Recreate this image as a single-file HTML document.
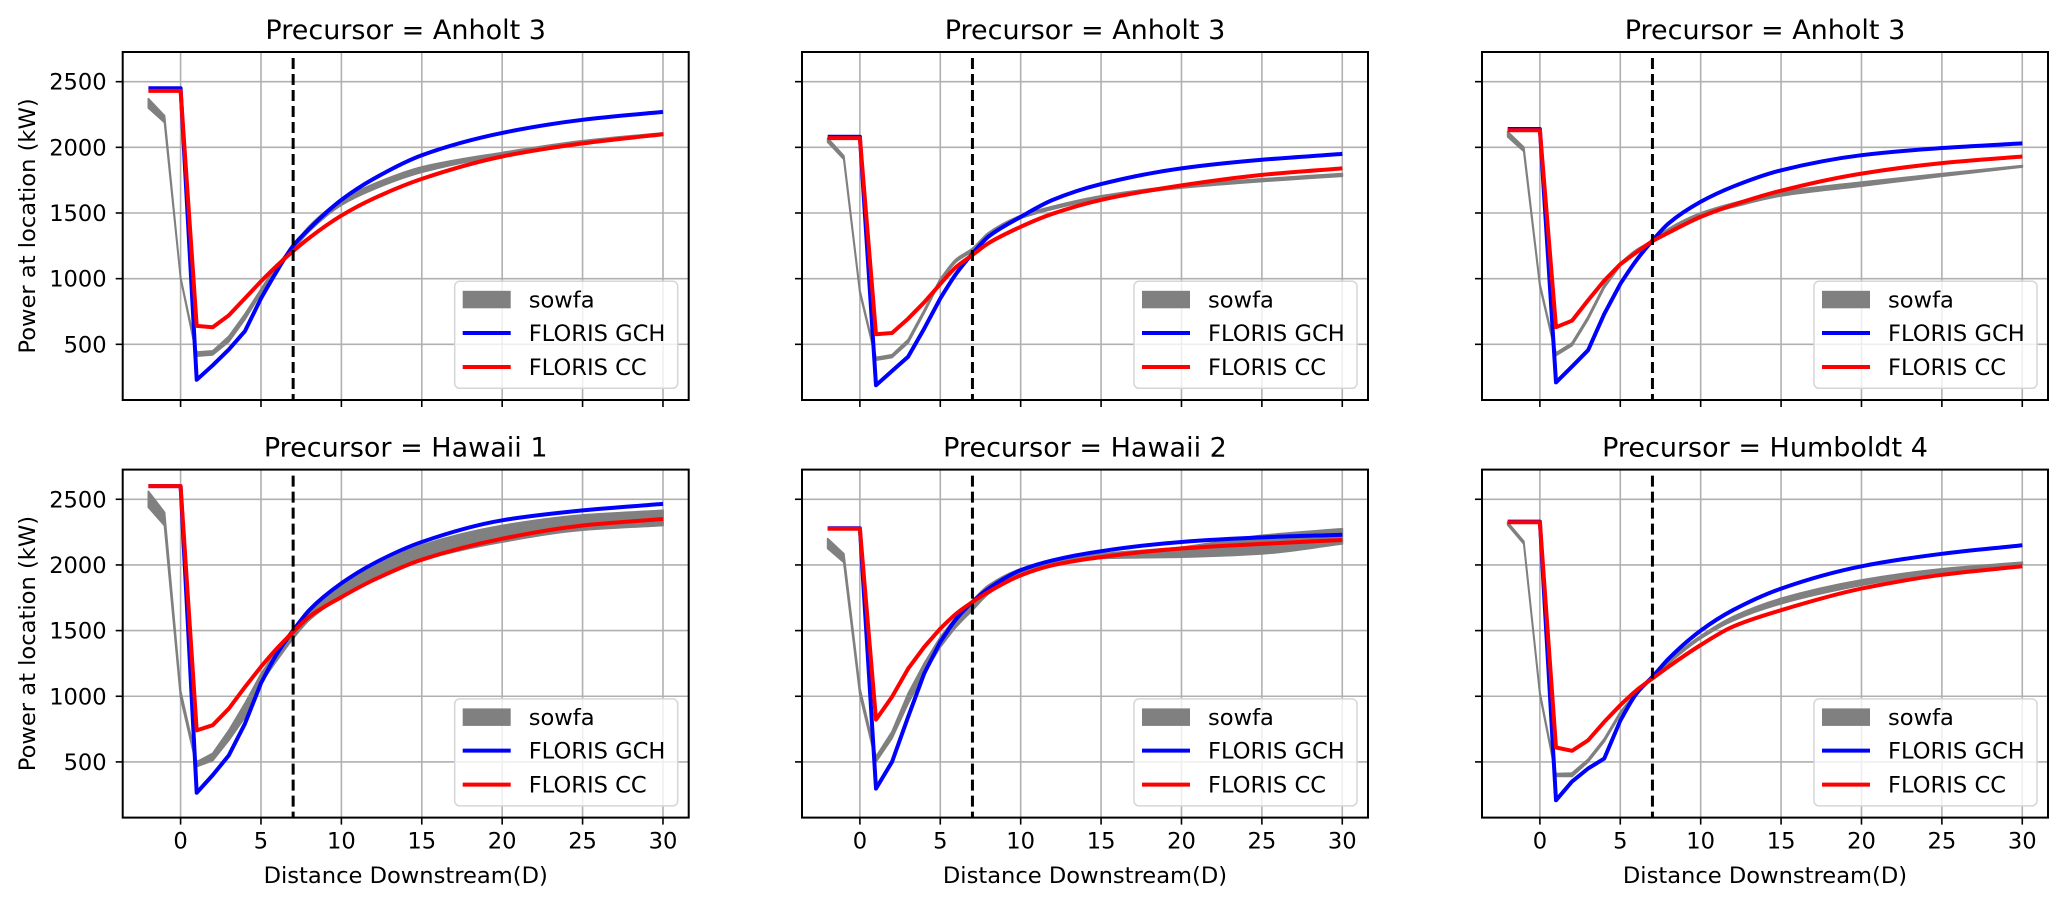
<!DOCTYPE html>
<html><head><meta charset="utf-8">
<style>
html,body{margin:0;padding:0;background:#fff;}
svg{display:block;font-family:"DejaVu Sans","Liberation Sans",sans-serif;}
</style></head>
<body>
<svg id="fig" width="2067" height="904" viewBox="0 0 2067 904" xmlns="http://www.w3.org/2000/svg"></svg>
<script>
const xs = [-2,-1,0,1,2,3,4,5,6,7,8,10,12,15,20,25,30];
const titles = ["Precursor = Anholt 3","Precursor = Anholt 3","Precursor = Anholt 3","Precursor = Hawaii 1","Precursor = Hawaii 2","Precursor = Humboldt 4"];
const xTicks = [0,5,10,15,20,25,30];
const yTicks = [500,1000,1500,2000,2500];
const markerX = 7;

const gch1 = [2450,2450,2450,230,340,460,600,850,1060,1250,1380,1600,1760,1940,2110,2210,2270];
const cc1  = [2430,2430,2430,640,630,720,850,980,1100,1210,1310,1480,1610,1760,1930,2030,2100];
const sLo1 = [2300,2190,1000,410,420,520,690,890,1070,1220,1360,1560,1680,1810,1940,2030,2090];
const sHi1 = [2370,2240,1010,440,450,560,730,920,1100,1250,1400,1600,1720,1850,1960,2050,2110];

const gch2 = [2080,2080,2080,188,297,405,620,850,1040,1190,1320,1470,1600,1720,1840,1905,1950];
const cc2  = [2070,2070,2070,576,586,695,820,960,1090,1180,1270,1395,1495,1600,1710,1790,1840];
const sLo2 = [2040,1910,890,380,400,510,740,980,1130,1210,1330,1460,1530,1610,1690,1740,1780];
const sHi2 = [2070,1935,910,400,420,535,760,1000,1150,1230,1350,1480,1550,1630,1710,1760,1800];

const gch3 = [2140,2140,2140,210,330,455,730,960,1140,1290,1420,1585,1700,1825,1940,1995,2030];
const cc3  = [2130,2130,2130,630,680,835,985,1110,1200,1285,1350,1470,1560,1670,1800,1880,1930];
const sLo3 = [2080,1970,940,415,490,690,930,1100,1200,1280,1360,1480,1545,1630,1705,1780,1850];
const sHi3 = [2120,2000,960,435,510,710,950,1120,1220,1290,1380,1500,1575,1660,1735,1800,1860];

const gch4 = [2600,2600,2600,265,400,550,790,1100,1325,1500,1655,1860,2010,2175,2340,2415,2465];
const cc4  = [2600,2600,2600,740,780,905,1070,1225,1365,1490,1605,1755,1885,2040,2200,2300,2350];
const sLo4 = [2440,2300,990,465,510,665,840,1100,1275,1440,1580,1755,1895,2035,2175,2265,2300];
const sHi4 = [2560,2400,1040,500,565,740,945,1170,1350,1515,1655,1845,1985,2150,2300,2380,2415];

const gch5 = [2280,2280,2280,297,500,843,1173,1414,1590,1718,1820,1960,2035,2105,2175,2210,2230];
const cc5  = [2275,2275,2275,822,995,1210,1375,1515,1630,1718,1795,1920,1998,2060,2125,2160,2190];
const sLo5 = [2125,2020,1010,500,680,945,1175,1375,1530,1655,1780,1920,1998,2050,2060,2085,2160];
const sHi5 = [2200,2085,1060,540,730,1020,1250,1450,1605,1730,1845,1970,2035,2085,2135,2225,2275];

const gch6 = [2330,2330,2330,208,350,450,525,815,1020,1148,1285,1500,1655,1820,1990,2085,2150];
const cc6  = [2325,2325,2325,610,585,665,805,932,1045,1135,1225,1390,1530,1655,1820,1925,1990];
const sLo6 = [2305,2160,1010,390,390,500,655,860,1010,1140,1250,1440,1575,1705,1845,1945,2005];
const sHi6 = [2325,2180,1030,410,415,520,675,880,1030,1160,1270,1460,1605,1745,1885,1970,2020];

const gchAll = [gch1,gch2,gch3,gch4,gch5,gch6];
const ccAll = [cc1,cc2,cc3,cc4,cc5,cc6];
const sLoAll = [sLo1,sLo2,sLo3,sLo4,sLo5,sLo6];
const sHiAll = [sHi1,sHi2,sHi3,sHi4,sHi5,sHi6];

const NS = "http://www.w3.org/2000/svg";
const svg = document.getElementById("fig");
function mk(tag, attrs, parent){
  const e = document.createElementNS(NS, tag);
  for (const k in attrs) e.setAttribute(k, attrs[k]);
  (parent||svg).appendChild(e);
  return e;
}
const colL = [122.7, 802, 1482], rowT = [52, 469.6];
const W = 566, H = 348;
const XMIN = -3.6, XMAX = 31.6, YMIN = 76, YMAX = 2726;
const SMOOTH_FROM = 7;

function cubicSeg(Q){
  const n = Q.length;
  const dk = [], m = [];
  for (let i = 0; i < n - 1; i++) dk.push((Q[i+1][1] - Q[i][1]) / (Q[i+1][0] - Q[i][0]));
  for (let i = 0; i < n; i++) {
    if (i === 0) m.push(dk[0]);
    else if (i === n - 1) m.push(dk[n-2]);
    else if (dk[i-1] * dk[i] <= 0) m.push(0);
    else {
      const h0 = Q[i][0]-Q[i-1][0], h1 = Q[i+1][0]-Q[i][0];
      const w1 = 2*h1 + h0, w2 = h1 + 2*h0;
      m.push((w1 + w2) / (w1 / dk[i-1] + w2 / dk[i]));
    }
  }
  let d = "";
  for (let i = 0; i < n - 1; i++) {
    const h = Q[i+1][0] - Q[i][0];
    d += "C" + (Q[i][0]+h/3).toFixed(1) + "," + (Q[i][1]+m[i]*h/3).toFixed(1) + " " + (Q[i+1][0]-h/3).toFixed(1) + "," + (Q[i+1][1]-m[i+1]*h/3).toFixed(1) + " " + Q[i+1][0].toFixed(1) + "," + Q[i+1][1].toFixed(1);
  }
  return d;
}
function pathD(P){
  let d = "M" + P[0][0].toFixed(1) + "," + P[0][1].toFixed(1);
  for (let i = 1; i <= SMOOTH_FROM && i < P.length; i++) d += "L" + P[i][0].toFixed(1) + "," + P[i][1].toFixed(1);
  return d + cubicSeg(P.slice(SMOOTH_FROM));
}
function reversePath(P){
  const R = P.slice().reverse();
  const n = R.length, k = n - SMOOTH_FROM;
  const Q = R.slice(0, k);
  let d = "L" + Q[0][0].toFixed(1) + "," + Q[0][1].toFixed(1) + cubicSeg(Q);
  for (let i = k; i < n; i++) d += "L" + R[i][0].toFixed(1) + "," + R[i][1].toFixed(1);
  return d;
}

for (let p = 0; p < 6; p++) {
  const c = p % 3, r = Math.floor(p / 3);
  const L = colL[c], T = rowT[r];
  const sx = v => L + (v - XMIN) / (XMAX - XMIN) * W;
  const sy = v => T + H - (v - YMIN) / (YMAX - YMIN) * H;
  const g = mk("g", {});
  
  

  xTicks.forEach(t => {
    const l = mk("line", {x1:sx(t), x2:sx(t), y1:T, y2:T+H, stroke:"#b0b0b0", "stroke-width":1.6}, g);
    
    
  });
  yTicks.forEach(t => {
    const l = mk("line", {x1:L, x2:L+W, y1:sy(t), y2:sy(t), stroke:"#b0b0b0", "stroke-width":1.6}, g);
    
    
  });

  const lo = sLoAll[p], hi = sHiAll[p];
  const PH = xs.map((x, i) => [sx(x), sy(hi[i])]);
  const PL = xs.map((x, i) => [sx(x), sy(lo[i])]);
  const d = pathD(PH) + reversePath(PL) + "Z";
  const band = mk("path", {d:d, fill:"#808080", stroke:"#808080", "stroke-width":1.8, "stroke-linejoin":"round"}, g);
  
  

  const line = (vals, color, name) => {
    const P = xs.map((x, i) => [sx(x), sy(vals[i])]);
    const pl = mk("path", {d:pathD(P), fill:"none", stroke:color, "stroke-width":4, "stroke-linejoin":"round"}, g);
    
    
  };
  line(gchAll[p], "#0000ff", "floris-gch-line");
  line(ccAll[p], "#ff0000", "floris-cc-line");

  const dl = mk("line", {x1:sx(markerX), x2:sx(markerX), y1:T+6, y2:T+H, stroke:"#000", "stroke-width":3, "stroke-dasharray":"11,5"}, g);
  
  

  const fr = mk("rect", {x:L, y:T, width:W, height:H, fill:"none", stroke:"#000", "stroke-width":2}, g);
  
  

  xTicks.forEach(t => {
    const tk = mk("line", {x1:sx(t), x2:sx(t), y1:T+H, y2:T+H+7, stroke:"#000", "stroke-width":1.6}, g);
    
    
    if (r === 1) {
      const tl = mk("text", {x:sx(t), y:T+H+31, "font-size":"22.6px", "text-anchor":"middle"}, g);
      tl.textContent = t;
      
      
    }
  });
  yTicks.forEach(t => {
    const tk = mk("line", {x1:L-7, x2:L, y1:sy(t), y2:sy(t), stroke:"#000", "stroke-width":1.6}, g);
    
    
    if (c === 0) {
      const tl = mk("text", {x:L-16, y:sy(t)+8, "font-size":"22.6px", "text-anchor":"end"}, g);
      tl.textContent = t;
      
      
    }
  });

  const ti = mk("text", {x:L+W/2, y:T-13, "font-size":"27px", "text-anchor":"middle"}, g);
  ti.textContent = titles[p];
  
  

  if (c === 0) {
    const yl = mk("text", {x:0, y:0, "font-size":"22.6px", "text-anchor":"middle", transform:"translate(35," + (T+H/2) + ") rotate(-90)"}, g);
    yl.textContent = "Power at location (kW)";
    
    
  }
  if (r === 1) {
    const xl = mk("text", {x:L+W/2, y:883, "font-size":"22.6px", "text-anchor":"middle"}, g);
    xl.textContent = "Distance Downstream(D)";
    
    
  }

  const lx = L + W - 11 - 223, ly = T + H - 11.7 - 107;
  const lg = mk("g", {}, g);
  
  
  mk("rect", {x:lx, y:ly, width:223, height:107, rx:5, fill:"#fff", "fill-opacity":0.8, stroke:"#d6d6d6", "stroke-width":1.5}, lg);
  const p1 = mk("rect", {x:lx+8, y:ly+9.5, width:48, height:17.5, fill:"#808080"}, lg);
  
  
  const l1 = mk("line", {x1:lx+8, x2:lx+56, y1:ly+51.7, y2:ly+51.7, stroke:"#0000ff", "stroke-width":4}, lg);
  
  
  const l2 = mk("line", {x1:lx+8, x2:lx+56, y1:ly+85.7, y2:ly+85.7, stroke:"#ff0000", "stroke-width":4}, lg);
  
  
  [["sowfa",18.3],["FLORIS GCH",51.7],["FLORIS CC",85.7]].forEach(([s, dy]) => {
    const t = mk("text", {x:lx+74, y:ly+dy+8, "font-size":"22.6px"}, lg);
    t.textContent = s;
    
    
  });
}
</script>
</body></html>
